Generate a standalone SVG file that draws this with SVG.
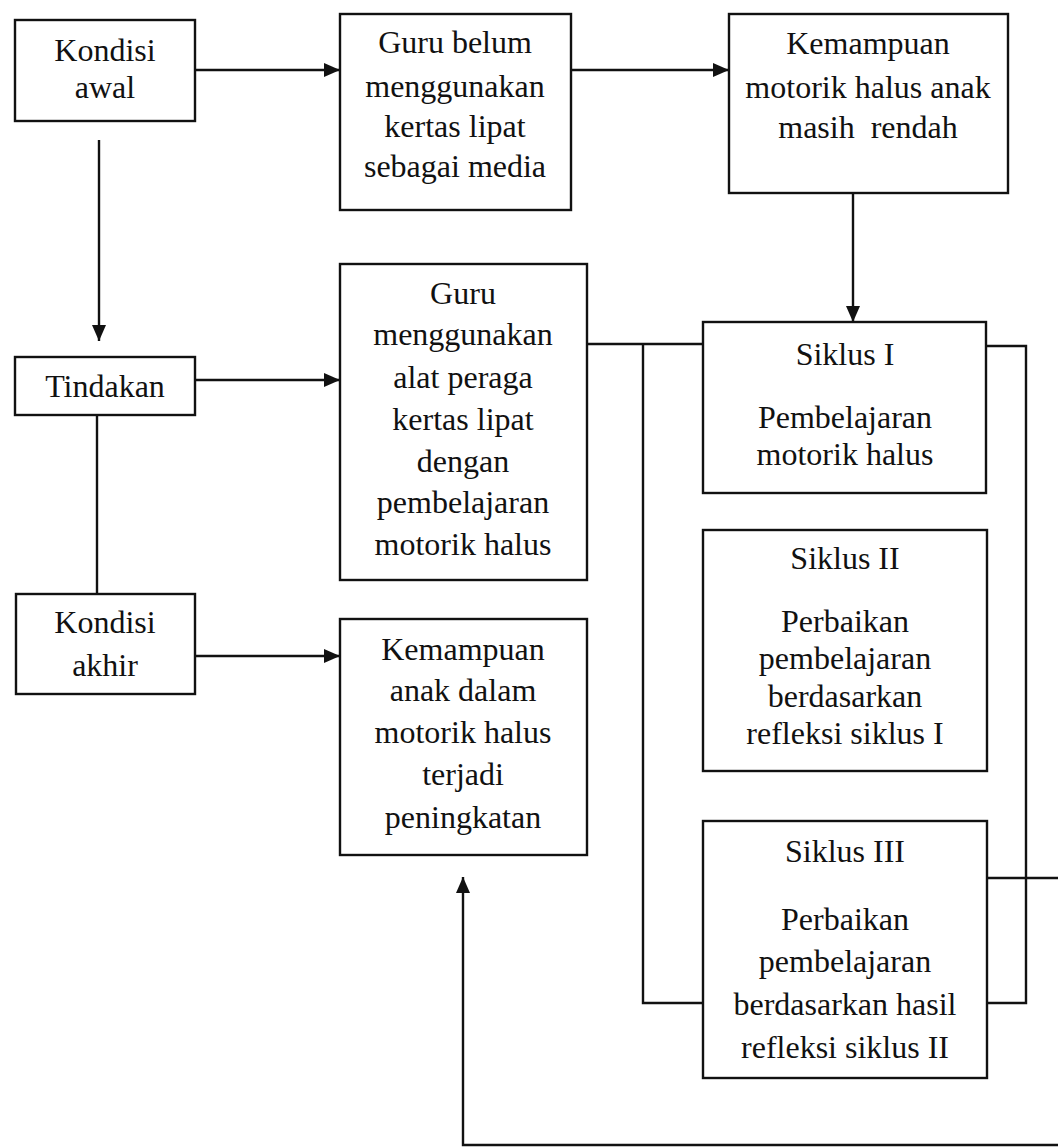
<svg xmlns="http://www.w3.org/2000/svg" width="1058" height="1148" viewBox="0 0 1058 1148">
<style>
.box{fill:none;stroke:#111;stroke-width:2.4}
.ln{fill:none;stroke:#111;stroke-width:2.4}
text{font-family:"Liberation Serif","Times New Roman",serif;font-size:32px;fill:#111;text-anchor:middle}
</style>
<defs>
<marker id="ah" viewBox="0 0 16 14" refX="16" refY="7" markerWidth="16" markerHeight="14" markerUnits="userSpaceOnUse" orient="auto">
<path d="M0,0 L16,7 L0,14 Z" fill="#111"/>
</marker>
</defs>
<rect width="1058" height="1148" fill="#fff"/>
<g id="connectors">
<line class="ln" x1="195" y1="70" x2="340" y2="70" marker-end="url(#ah)"/>
<line class="ln" x1="571" y1="70" x2="729" y2="70" marker-end="url(#ah)"/>
<line class="ln" x1="853" y1="193" x2="853" y2="322" marker-end="url(#ah)"/>
<line class="ln" x1="99" y1="140" x2="99" y2="341" marker-end="url(#ah)"/>
<line class="ln" x1="195" y1="380" x2="340" y2="380" marker-end="url(#ah)"/>
<line class="ln" x1="97" y1="415" x2="97" y2="594"/>
<line class="ln" x1="195" y1="656" x2="340" y2="656" marker-end="url(#ah)"/>
<polyline class="ln" points="587,344 703,344"/>
<polyline class="ln" points="643,344 643,1003 703,1003"/>
<polyline class="ln" points="986,346 1026,346 1026,1003 987,1003"/>
<line class="ln" x1="987" y1="878" x2="1058" y2="878"/>
<polyline class="ln" points="1058,1145 463,1145 463,877" marker-end="url(#ah)"/>
</g>
<g id="kondisi-awal">
<rect class="box" x="15" y="20" width="180" height="101"/>
<text x="105" y="61">Kondisi</text>
<text x="105" y="98">awal</text>
</g>
<g id="guru-belum">
<rect class="box" x="340" y="14" width="231" height="196"/>
<text x="455" y="53">Guru belum</text>
<text x="455" y="97">menggunakan</text>
<text x="455" y="137">kertas lipat</text>
<text x="455" y="177">sebagai media</text>
</g>
<g id="kemampuan-awal">
<rect class="box" x="729" y="14" width="279" height="179"/>
<text x="868" y="54">Kemampuan</text>
<text x="868" y="98">motorik halus anak</text>
<text x="868" y="138" xml:space="preserve">masih  rendah</text>
</g>
<g id="tindakan">
<rect class="box" x="15" y="357" width="180" height="58"/>
<text x="105" y="397">Tindakan</text>
</g>
<g id="guru-menggunakan">
<rect class="box" x="340" y="264" width="247" height="316"/>
<text x="463" y="304">Guru</text>
<text x="463" y="345">menggunakan</text>
<text x="463" y="388">alat peraga</text>
<text x="463" y="430">kertas lipat</text>
<text x="463" y="472">dengan</text>
<text x="463" y="513">pembelajaran</text>
<text x="463" y="555">motorik halus</text>
</g>
<g id="kondisi-akhir">
<rect class="box" x="16" y="594" width="179" height="100"/>
<text x="105" y="633">Kondisi</text>
<text x="105" y="676">akhir</text>
</g>
<g id="kemampuan-akhir">
<rect class="box" x="340" y="619" width="247" height="236"/>
<text x="463" y="660">Kemampuan</text>
<text x="463" y="701">anak dalam</text>
<text x="463" y="743">motorik halus</text>
<text x="463" y="785">terjadi</text>
<text x="463" y="828">peningkatan</text>
</g>
<g id="siklus-1">
<rect class="box" x="703" y="322" width="283" height="171"/>
<text x="845" y="365">Siklus I</text>
<text x="845" y="428">Pembelajaran</text>
<text x="845" y="465">motorik halus</text>
</g>
<g id="siklus-2">
<rect class="box" x="703" y="530" width="284" height="241"/>
<text x="845" y="569">Siklus II</text>
<text x="845" y="632">Perbaikan</text>
<text x="845" y="669">pembelajaran</text>
<text x="845" y="707">berdasarkan</text>
<text x="845" y="744">refleksi siklus I</text>
</g>
<g id="siklus-3">
<rect class="box" x="703" y="821" width="284" height="257"/>
<text x="845" y="862">Siklus III</text>
<text x="845" y="930">Perbaikan</text>
<text x="845" y="972">pembelajaran</text>
<text x="845" y="1015">berdasarkan hasil</text>
<text x="845" y="1058">refleksi siklus II</text>
</g>
</svg>
